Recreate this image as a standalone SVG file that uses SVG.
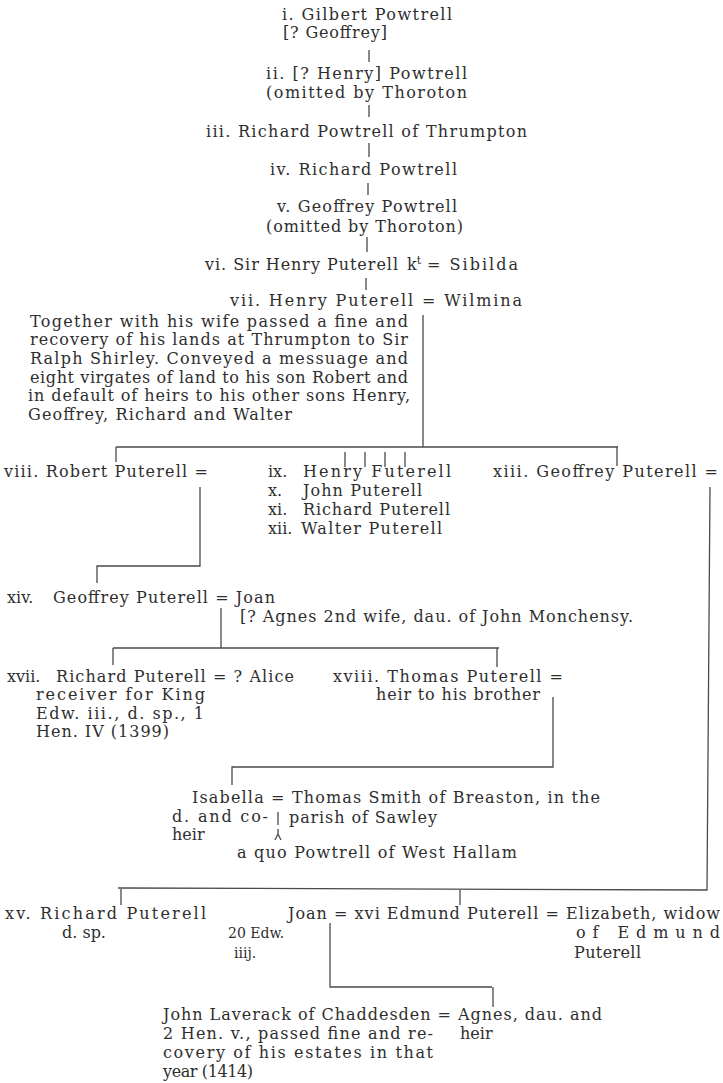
<svg xmlns="http://www.w3.org/2000/svg" width="723" height="1083" viewBox="0 0 723 1083">
<style>
.t{font-family:"DejaVu Serif","Liberation Serif",serif;font-size:16px;fill:#2e2e2e}
.s{font-size:14px}
.c{stroke:#4a4a4a;stroke-width:1.3;fill:none}
</style>
<rect width="723" height="1083" fill="#ffffff"/>
<g id="connectors" class="c">
<path d="M369,50V62M369,105V117M369,143V157M368,183V195M367,237V252M366,278V290"/>
<path d="M423,315V447M116,447H618M116,447V462M345,452V467M365,452V467M385,452V467M405,452V467M617,447V466"/>
<path d="M200,487V566H97V583"/>
<path d="M710,487L707,890L118,888M121,889V905M460,889V905"/>
<path d="M221,608V648M113,648H499M113,648V665M497,648V667"/>
<path d="M553,697V767H232V785"/>
<path d="M278,812V825M278,829V834M278,834L275,840M278,834L281,840"/>
<path d="M330,923V987H492M493,987V1007"/>
</g>
<g id="n1">
<text class="t" x="282" y="20" textLength="170">i. Gilbert Powtrell</text>
<text class="t" x="283" y="38" textLength="104">[? Geoffrey]</text>
</g>
<g id="n2">
<text class="t" x="266" y="79" textLength="201">ii. [? Henry] Powtrell</text>
<text class="t" x="266" y="98" textLength="201">(omitted by Thoroton</text>
</g>
<g id="n3">
<text class="t" x="206" y="137" textLength="321">iii. Richard Powtrell of Thrumpton</text>
</g>
<g id="n4">
<text class="t" x="270" y="175" textLength="187">iv. Richard Powtrell</text>
</g>
<g id="n5">
<text class="t" x="277" y="212" textLength="180">v. Geoffrey Powtrell</text>
<text class="t" x="266" y="232" textLength="197">(omitted by Thoroton)</text>
</g>
<g id="n6">
<text class="t" x="205" y="270" textLength="193">vi. Sir Henry Puterell</text>
<text class="t" x="407" y="270">k<tspan dy="-6" font-size="11">t</tspan></text>
<text class="t" x="427" y="270" textLength="91">= Sibilda</text>
</g>
<g id="n7">
<text class="t" x="230" y="306" textLength="292">vii. Henry Puterell = Wilmina</text>
<text class="t" x="30" y="327" textLength="378">Together with his wife passed a fine and</text>
<text class="t" x="30" y="345" textLength="378">recovery of his lands at Thrumpton  to Sir</text>
<text class="t" x="30" y="364" textLength="378">Ralph Shirley.   Conveyed a messuage and</text>
<text class="t" x="30" y="383" textLength="378">eight virgates of land to his son Robert and</text>
<text class="t" x="28" y="401" textLength="382">in default of heirs to his other sons Henry,</text>
<text class="t" x="28" y="420" textLength="264">Geoffrey, Richard and Walter</text>
</g>
<g id="n8">
<text class="t" x="4" y="477" textLength="204">viii. Robert Puterell =</text>
</g>
<g id="n9">
<text class="t" x="268" y="477">ix.</text>
<text class="t" x="303" y="477" textLength="148">Henry Futerell</text>
</g>
<g id="n10">
<text class="t" x="268" y="496">x.</text>
<text class="t" x="303" y="496" textLength="119">John Puterell</text>
</g>
<g id="n11">
<text class="t" x="268" y="515">xi.</text>
<text class="t" x="303" y="515" textLength="147">Richard Puterell</text>
</g>
<g id="n12">
<text class="t" x="268" y="534">xii.</text>
<text class="t" x="301" y="534" textLength="141">Walter Puterell</text>
</g>
<g id="n13">
<text class="t" x="493" y="477" textLength="225">xiii. Geoffrey Puterell =</text>
</g>
<g id="n14">
<text class="t" x="7" y="603">xiv.</text>
<text class="t" x="53" y="603" textLength="222">Geoffrey Puterell = Joan</text>
<text class="t" x="240" y="622" textLength="393">[? Agnes 2nd wife, dau. of John Monchensy.</text>
</g>
<g id="n17">
<text class="t" x="7" y="682">xvii.</text>
<text class="t" x="56" y="682" textLength="238">Richard Puterell = ? Alice</text>
<text class="t" x="36" y="700" textLength="169">receiver  for  King</text>
<text class="t" x="36" y="719" textLength="168">Edw. iii., d. sp., 1</text>
<text class="t" x="36" y="737" textLength="133">Hen. IV (1399)</text>
</g>
<g id="n18">
<text class="t" x="333" y="682" textLength="230">xviii. Thomas Puterell =</text>
<text class="t" x="376" y="700" textLength="164">heir to his brother</text>
</g>
<g id="n19">
<text class="t" x="192" y="803" textLength="408">Isabella = Thomas Smith of Breaston, in the</text>
<text class="t" x="172" y="822" textLength="96">d. and co-</text>
<text class="t" x="289" y="823" textLength="148">parish of Sawley</text>
<text class="t" x="172" y="840">heir</text>
<text class="t" x="237" y="858" textLength="280">a quo Powtrell of West Hallam</text>
</g>
<g id="n15">
<text class="t" x="5" y="919" textLength="201">xv. Richard Puterell</text>
<text class="t" x="62" y="938">d. sp.</text>
</g>
<g id="n16">
<text class="t" x="288" y="919" textLength="432">Joan = xvi  Edmund Puterell = Elizabeth, widow</text>
<text class="t s" x="228" y="938">20 Edw.</text>
<text class="t s" x="234" y="958">iiij.</text>
<text class="t" x="576" y="938" textLength="144">of  Edmund</text>
<text class="t" x="574" y="958" textLength="67">Puterell</text>
</g>
<g id="n20">
<text class="t" x="163" y="1020" textLength="439">John Laverack of Chaddesden = Agnes, dau. and</text>
<text class="t" x="163" y="1039" textLength="270">2 Hen. v., passed fine and re-</text>
<text class="t" x="460" y="1039">heir</text>
<text class="t" x="163" y="1058" textLength="270">covery of his estates in that</text>
<text class="t" x="163" y="1077" textLength="90">year (1414)</text>
</g>
</svg>
